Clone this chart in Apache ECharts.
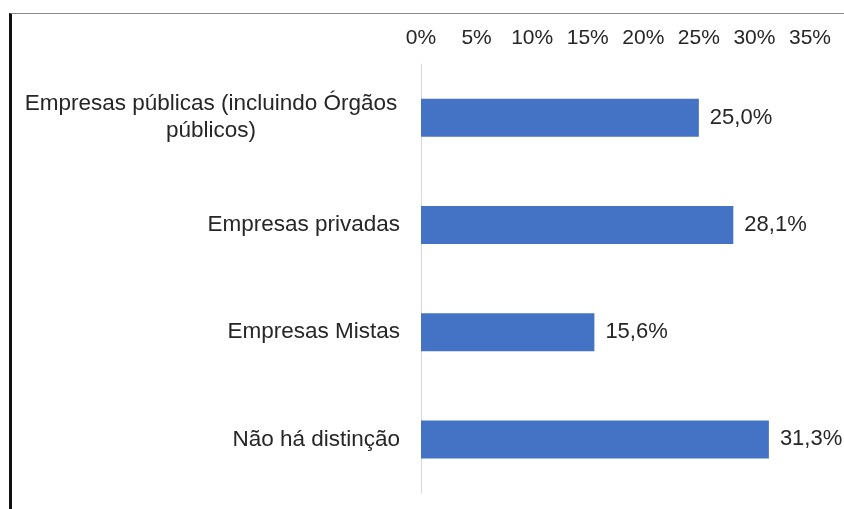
<!DOCTYPE html>
<html>
<head>
<meta charset="utf-8">
<script src="https://cdn.jsdelivr.net/npm/echarts@6/dist/echarts.min.js"></script>
<style>
  html, body { margin: 0; padding: 0; background: #fff; }
  #chart { width: 844px; height: 509px; }
  #frame {
    position: absolute; left: 9px; top: 13px; right: 0; bottom: 0;
    border-top: 1px solid #8c8c8c; border-left: 3px solid #111;
    pointer-events: none;
  }
</style>
</head>
<body>
<div id="chart"></div>
<div id="frame"></div>
<script>
// categorias de cima para baixo
var categories = ['Empresas públicas (incluindo Órgãos\npúblicos)', 'Empresas privadas', 'Empresas Mistas', 'Não há distinção'];
var values = [25.0, 28.1, 15.6, 31.3];
var ticks = [0, 5, 10, 15, 20, 25, 30, 35];

var myChart = echarts.init(document.getElementById('chart'));
var fontFam = 'Liberation Sans, Arial, sans-serif';

var option = {
    animation: false,
    grid: { left: 421, right: 34, top: 64, bottom: 16 },
    xAxis: {
        type: 'value',
        position: 'top',
        min: ticks[0],
        max: ticks[ticks.length - 1],
        interval: 5,
        axisLine: { show: false },
        axisTick: { show: false },
        splitLine: { show: false },
        axisLabel: {
            margin: 15,
            fontSize: 21,
            color: '#262626',
            fontFamily: fontFam,
            formatter: function (v) { return v + '%'; }
        }
    },
    yAxis: {
        type: 'category',
        inverse: true,
        data: categories,
        axisLine: { show: true, lineStyle: { color: '#d9d9d9', width: 1 } },
        axisTick: { show: false },
        axisLabel: {
            margin: 21,
            fontSize: 22.5,
            color: '#262626',
            fontFamily: fontFam,
            lineHeight: 27,
            formatter: function (v) {
                if (v.indexOf('\n') >= 0) {
                    return v.split('\n').map(function (s) { return '{c|' + s + '}'; }).join('\n');
                }
                return v;
            },
            rich: {
                c: { width: 378, align: 'center', fontSize: 22.5, lineHeight: 27, color: '#262626', fontFamily: fontFam }
            }
        }
    },
    series: [{
        type: 'bar',
        data: values,
        barWidth: 38,
        itemStyle: { color: '#4472C4' },
        label: {
            show: true,
            position: 'right',
            distance: 11,
            fontSize: 22,
            color: '#262626',
            fontFamily: fontFam,
            formatter: function (p) { return p.value.toFixed(1).replace('.', ',') + '%'; }
        }
    }]
};
myChart.setOption(option);
</script>
</body>
</html>
